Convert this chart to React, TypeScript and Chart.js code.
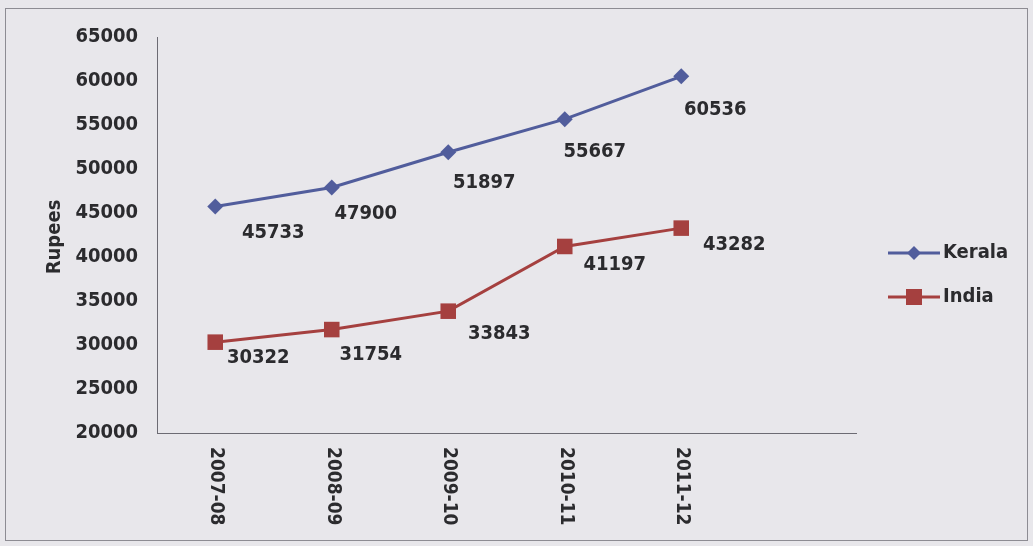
import React, { useEffect, useRef } from "react";
import { Chart, registerables } from "chart.js";

Chart.register(...registerables);

const categories = ["2007-08", "2008-09", "2009-10", "2010-11", "2011-12", ""];
const keralaValues = [45733, 47900, 51897, 55667, 60536, null];
const indiaValues = [30322, 31754, 33843, 41197, 43282, null];
const seriesNames = ["Kerala", "India"];
const yAxisTitle = "Rupees";
const yMin = 20000;
const yMax = 65000;
const yStep = 5000;

const FONT = "'DejaVu Sans Condensed', 'DejaVu Sans', sans-serif";
const KERALA_COLOR = "#515d9c";
const INDIA_COLOR = "#a5403f";
const TEXT_COLOR = "#2b2b2e";
const BG = "#e8e7eb";

// label offsets (styling, px) relative to each point
const keralaLabelOffsets = [[58, 26], [34, 26], [36, 30], [30, 33], [34, 34]];
const indiaLabelOffsets = [[43, 16], [39, 25], [51, 23], [50, 18], [53, 17]];

const overlayPlugin = {
  id: "overlay",
  beforeDraw(chart: any) {
    const ctx = chart.ctx;
    ctx.save();
    ctx.fillStyle = BG;
    ctx.fillRect(0, 0, chart.width, chart.height);
    ctx.restore();
  },
  afterDraw(chart: any) {
    const ctx = chart.ctx;
    const xScale = chart.scales.x;
    ctx.save();
    // outer border
    ctx.strokeStyle = "#8d8c93";
    ctx.lineWidth = 1;
    ctx.strokeRect(5.5, 8.5, 1022, 532);

    // data labels
    ctx.fillStyle = TEXT_COLOR;
    ctx.font = `bold 20px ${FONT}`;
    ctx.textAlign = "center";
    ctx.textBaseline = "middle";
    const offsets = [keralaLabelOffsets, indiaLabelOffsets];
    chart.data.datasets.forEach((ds: any, di: number) => {
      const meta = chart.getDatasetMeta(di);
      meta.data.forEach((pt: any, i: number) => {
        const v = ds.data[i];
        if (v === null || v === undefined) return;
        const off = offsets[di][i] || [35, 25];
        ctx.fillText(String(v), pt.x + off[0], pt.y + off[1]);
      });
    });

    // x labels rotated clockwise
    ctx.font = `bold 19px ${FONT}`;
    ctx.textAlign = "left";
    ctx.textBaseline = "middle";
    categories.forEach((c, i) => {
      if (!c) return;
      const x = xScale.getPixelForValue(i);
      ctx.save();
      ctx.translate(x + 1, 447);
      ctx.rotate(Math.PI / 2);
      ctx.fillText(c, 0, 0);
      ctx.restore();
    });

    // y title
    ctx.save();
    ctx.font = `bold 20px ${FONT}`;
    ctx.textAlign = "center";
    ctx.textBaseline = "middle";
    ctx.translate(55, 237);
    ctx.rotate(-Math.PI / 2);
    ctx.fillText(yAxisTitle, 0, 0);
    ctx.restore();

    // legend
    const colors = [KERALA_COLOR, INDIA_COLOR];
    const rows = [253, 297];
    seriesNames.forEach((name, i) => {
      const y = rows[i];
      ctx.strokeStyle = colors[i];
      ctx.lineWidth = 3;
      ctx.beginPath();
      ctx.moveTo(888, y);
      ctx.lineTo(940, y);
      ctx.stroke();
      ctx.fillStyle = colors[i];
      ctx.beginPath();
      if (i === 0) {
        ctx.moveTo(914, y - 7);
        ctx.lineTo(921, y);
        ctx.lineTo(914, y + 7);
        ctx.lineTo(907, y);
        ctx.closePath();
      } else {
        ctx.rect(906, y - 8, 16, 16);
      }
      ctx.fill();
      ctx.fillStyle = TEXT_COLOR;
      ctx.font = `bold 20px ${FONT}`;
      ctx.textAlign = "left";
      ctx.textBaseline = "middle";
      ctx.fillText(name, 943, y);
    });
    ctx.restore();
  },
};

export default function App() {
  const canvasRef = useRef<HTMLCanvasElement | null>(null);

  useEffect(() => {
    if (!canvasRef.current) return;
    const chart = new Chart(canvasRef.current, {
      type: "line",
      data: {
        labels: categories,
        datasets: [
          {
            label: seriesNames[0],
            data: keralaValues,
            borderColor: KERALA_COLOR,
            backgroundColor: KERALA_COLOR,
            borderWidth: 3,
            pointStyle: "rectRot",
            pointRadius: 8,
            pointBorderWidth: 0,
            tension: 0,
          },
          {
            label: seriesNames[1],
            data: indiaValues,
            borderColor: INDIA_COLOR,
            backgroundColor: INDIA_COLOR,
            borderWidth: 3,
            pointStyle: "rect",
            pointRadius: 11,
            pointBorderWidth: 0,
            tension: 0,
          },
        ],
      },
      options: {
        responsive: false,
        animation: false,
        layout: { padding: { top: 37, right: 177, left: 0, bottom: 0 } },
        plugins: {
          legend: { display: false },
          tooltip: { enabled: false },
          title: { display: false },
        },
        scales: {
          x: {
            type: "category",
            offset: true,
            grid: { display: false, drawTicks: false },
            border: { display: true, color: "#6c6b73", width: 1 },
            ticks: { display: false },
            afterFit: (s: any) => {
              s.height = 113;
            },
          },
          y: {
            min: yMin,
            max: yMax,
            grid: { display: false, drawTicks: false },
            border: { display: true, color: "#6c6b73", width: 1 },
            ticks: {
              stepSize: yStep,
              padding: 19,
              color: TEXT_COLOR,
              font: { family: FONT, size: 20, weight: "bold" },
              callback: (v: any) => String(v),
            },
            afterFit: (s: any) => {
              s.width = 157;
            },
          },
        },
      },
      plugins: [overlayPlugin],
    });
    return () => chart.destroy();
  }, []);

  return (
    <div style={{ position: "fixed", left: 0, top: 0, width: 1033, height: 546 }}>
      <canvas ref={canvasRef} width={1033} height={546} />
    </div>
  );
}
